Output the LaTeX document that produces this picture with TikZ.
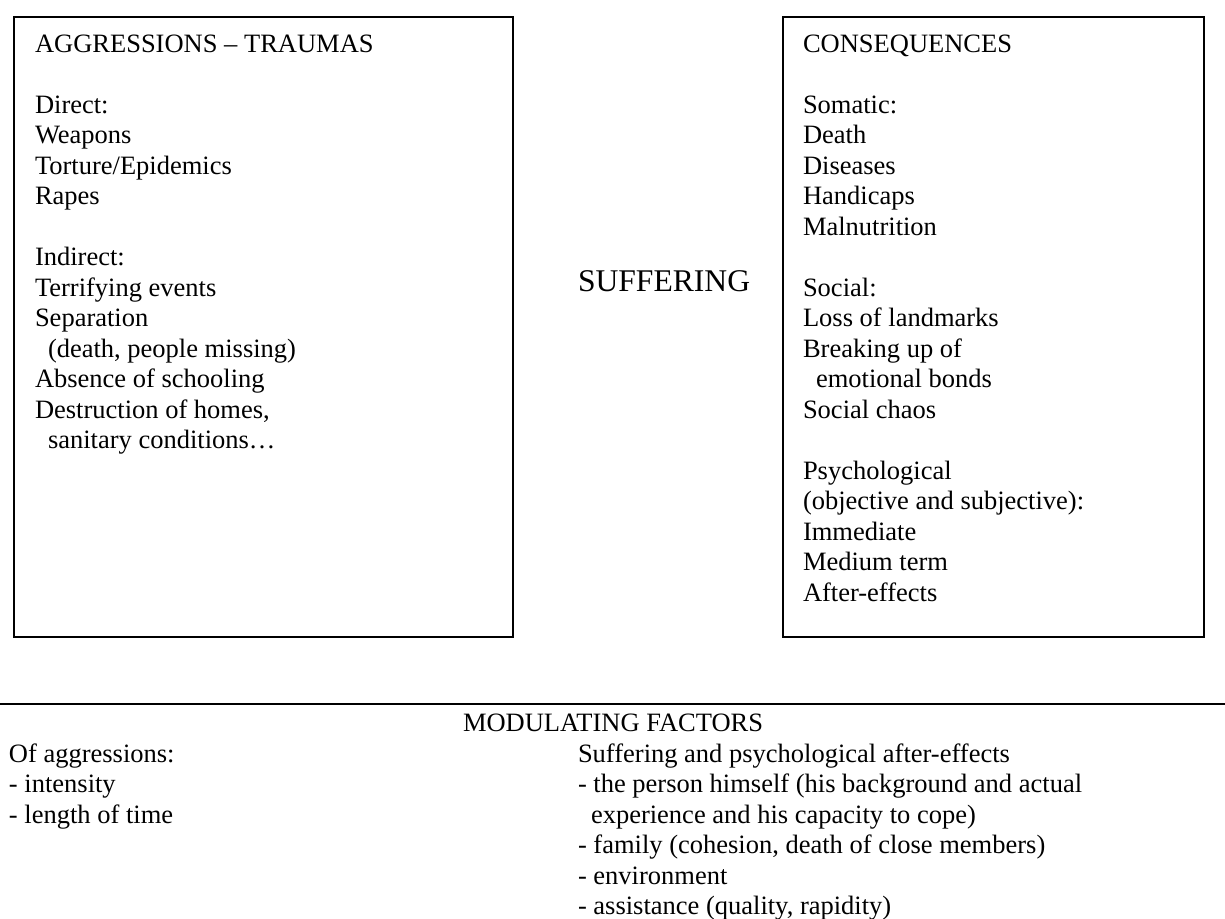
\documentclass[tikz,border=0pt]{standalone}
\usepackage{fontspec}
\setmainfont{Liberation Serif}
\newcommand\txtblock[1]{\parbox[t]{620pt}{\raggedright #1}}
\begin{document}
\begin{tikzpicture}[x=1pt,y=-1pt,
  frame/.style={draw=black, line width=2pt, rectangle, inner sep=0pt, outer sep=0pt, anchor=north west},
  txt/.style={anchor=base west, inner sep=0pt, outer sep=0pt, font=\fontsize{26.5}{30.5}\selectfont},
  bigtxt/.style={anchor=base west, inner sep=0pt, outer sep=0pt, font=\fontsize{31.6}{36}\selectfont},
  rule/.style={draw=black, line width=2pt}
]
\useasboundingbox (0,0) rectangle (1225,918);

% boxes
\node[frame, minimum width=499pt, minimum height=620pt] (aggbox) at (14.3,16.5) {};
\node[frame, minimum width=421.6pt, minimum height=620pt] (consbox) at (782.7,16.5) {};

% left box text
\node[txt] (aggtext) at (35,52) {\txtblock{%
AGGRESSIONS – TRAUMAS\\
\mbox{}\\
Direct:\\
Weapons\\
Torture/Epidemics\\
Rapes\\
\mbox{}\\
Indirect:\\
Terrifying events\\
Separation\\
\hspace*{13pt}(death, people missing)\\
Absence of schooling\\
Destruction of homes,\\
\hspace*{13pt}sanitary conditions…}};

% right box text
\node[txt] (constext) at (803,52) {\txtblock{%
CONSEQUENCES\\
\mbox{}\\
Somatic:\\
Death\\
Diseases\\
Handicaps\\
Malnutrition\\
\mbox{}\\
Social:\\
Loss of landmarks\\
Breaking up of\\
\hspace*{13pt}emotional bonds\\
Social chaos\\
\mbox{}\\
Psychological\\
(objective and subjective):\\
Immediate\\
Medium term\\
After-effects}};

% centre label
\node[bigtxt] (suffering) at (578,291) {SUFFERING};

% separator line
\coordinate (ruleL) at (0,704);
\coordinate (ruleR) at (1225,704);
\draw[rule] (ruleL) -- (ruleR);

% modulating factors
\node[txt] (modtitle) at (463,731) {MODULATING FACTORS};
\node[txt] (modleft) at (9,762) {\txtblock{%
Of aggressions:\\
- intensity\\
- length of time}};
\node[txt] (modright) at (578,762) {\txtblock{%
Suffering and psychological after-effects\\
- the person himself (his background and actual\\
\hspace*{13pt}experience and his capacity to cope)\\
- family (cohesion, death of close members)\\
- environment\\
- assistance (quality, rapidity)}};
\end{tikzpicture}
\end{document}
